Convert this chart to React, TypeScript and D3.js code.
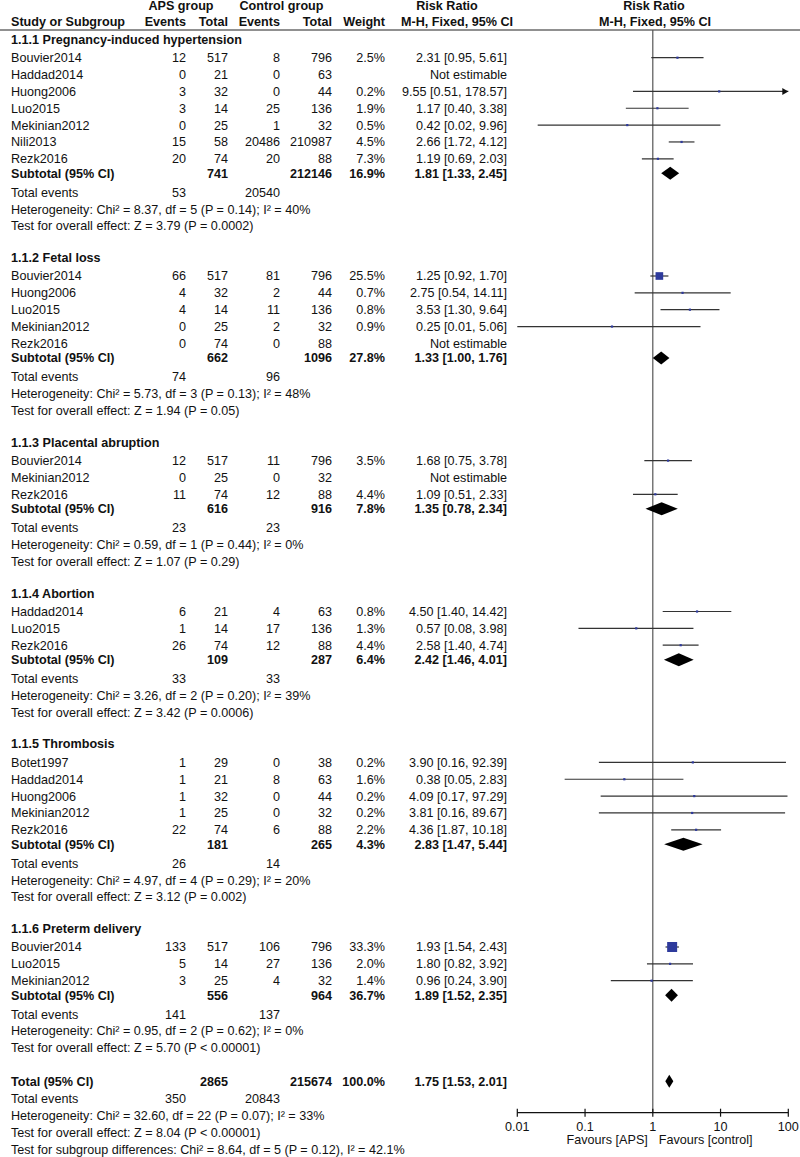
import React from 'react';
import * as d3 from 'd3';

// subgroup titles and footers
const groupTitles = [
    '1.1.1 Pregnancy-induced hypertension',
    '1.1.2 Fetal loss',
    '1.1.3 Placental abruption',
    '1.1.4 Abortion',
    '1.1.5 Thrombosis',
    '1.1.6 Preterm delivery'
];

// study rows (flat, grouped by studyGroup)
const studyGroup = [0, 0, 0, 0, 0, 0, 0, 1, 1, 1, 1, 1, 2, 2, 2, 3, 3, 3, 4, 4, 4, 4, 4, 5, 5, 5];
const studyNames = [
    'Bouvier2014', 'Haddad2014', 'Huong2006', 'Luo2015', 'Mekinian2012', 'Nili2013', 'Rezk2016',
    'Bouvier2014', 'Huong2006', 'Luo2015', 'Mekinian2012', 'Rezk2016',
    'Bouvier2014', 'Mekinian2012', 'Rezk2016',
    'Haddad2014', 'Luo2015', 'Rezk2016',
    'Botet1997', 'Haddad2014', 'Huong2006', 'Mekinian2012', 'Rezk2016',
    'Bouvier2014', 'Luo2015', 'Mekinian2012'
];
const apsEvents = [12, 0, 3, 3, 0, 15, 20, 66, 4, 4, 0, 0, 12, 0, 11, 6, 1, 26, 1, 1, 1, 1, 22, 133, 5, 3];
const apsTotals = [517, 21, 32, 14, 25, 58, 74, 517, 32, 14, 25, 74, 517, 25, 74, 21, 14, 74, 29, 21, 32, 25, 74, 517, 14, 25];
const ctlEvents = [8, 0, 0, 25, 1, 20486, 20, 81, 2, 11, 2, 0, 11, 0, 12, 4, 17, 12, 0, 8, 0, 0, 6, 106, 27, 4];
const ctlTotals = [796, 63, 44, 136, 32, 210987, 88, 796, 44, 136, 32, 88, 796, 32, 88, 63, 136, 88, 38, 63, 44, 32, 88, 796, 136, 32];
const weights = [2.5, null, 0.2, 1.9, 0.5, 4.5, 7.3, 25.5, 0.7, 0.8, 0.9, null, 3.5, null, 4.4, 0.8, 1.3, 4.4, 0.2, 1.6, 0.2, 0.2, 2.2, 33.3, 2.0, 1.4];
const riskRatio = [2.31, null, 9.55, 1.17, 0.42, 2.66, 1.19, 1.25, 2.75, 3.53, 0.25, null, 1.68, null, 1.09, 4.50, 0.57, 2.58, 3.90, 0.38, 4.09, 3.81, 4.36, 1.93, 1.80, 0.96];
const ciLower = [0.95, null, 0.51, 0.40, 0.02, 1.72, 0.69, 0.92, 0.54, 1.30, 0.01, null, 0.75, null, 0.51, 1.40, 0.08, 1.40, 0.16, 0.05, 0.17, 0.16, 1.87, 1.54, 0.82, 0.24];
const ciUpper = [5.61, null, 178.57, 3.38, 9.96, 4.12, 2.03, 1.70, 14.11, 9.64, 5.06, null, 3.78, null, 2.33, 14.42, 3.98, 4.74, 92.39, 2.83, 97.29, 89.67, 10.18, 2.43, 3.92, 3.90];

// subtotals
const subApsTotal = [741, 662, 616, 109, 181, 556];
const subCtlTotal = [212146, 1096, 916, 287, 265, 964];
const subWeight = [16.9, 27.8, 7.8, 6.4, 4.3, 36.7];
const subRR = [1.81, 1.33, 1.35, 2.42, 2.83, 1.89];
const subLower = [1.33, 1.00, 0.78, 1.46, 1.47, 1.52];
const subUpper = [2.45, 1.76, 2.34, 4.01, 5.44, 2.35];
const subEventsAps = [53, 74, 23, 33, 26, 141];
const subEventsCtl = [20540, 96, 23, 33, 14, 137];
const heterogeneity = [
    'Heterogeneity: Chi² = 8.37, df = 5 (P = 0.14); I² = 40%',
    'Heterogeneity: Chi² = 5.73, df = 3 (P = 0.13); I² = 48%',
    'Heterogeneity: Chi² = 0.59, df = 1 (P = 0.44); I² = 0%',
    'Heterogeneity: Chi² = 3.26, df = 2 (P = 0.20); I² = 39%',
    'Heterogeneity: Chi² = 4.97, df = 4 (P = 0.29); I² = 20%',
    'Heterogeneity: Chi² = 0.95, df = 2 (P = 0.62); I² = 0%'
];
const overallEffect = [
    'Test for overall effect: Z = 3.79 (P = 0.0002)',
    'Test for overall effect: Z = 1.94 (P = 0.05)',
    'Test for overall effect: Z = 1.07 (P = 0.29)',
    'Test for overall effect: Z = 3.42 (P = 0.0006)',
    'Test for overall effect: Z = 3.12 (P = 0.002)',
    'Test for overall effect: Z = 5.70 (P < 0.00001)'
];

// overall
const totalApsN = 2865;
const totalCtlN = 215674;
const totalRR = [1.75, 1.53, 2.01];
const totalEvents = [350, 20843];
const totalNotes = [
    'Heterogeneity: Chi² = 32.60, df = 22 (P = 0.07); I² = 33%',
    'Test for overall effect: Z = 8.04 (P < 0.00001)',
    'Test for subgroup differences: Chi² = 8.64, df = 5 (P = 0.12), I² = 42.1%'
];
const axisTicks = [0.01, 0.1, 1, 10, 100];

const W = 800, H = 1157;
const FONT = '"Liberation Sans", Arial, sans-serif';
const col = { name: 11, apsE: 186, apsN: 228, ctlE: 280, ctlN: 332, wt: 385, rr: 507 };
const axisY = 1112.7;

const fmtRR = (r, l, u) => r.toFixed(2) + ' [' + l.toFixed(2) + ', ' + u.toFixed(2) + ']';

export default function App() {
    const x = d3.scaleLog().domain([0.01, 100]).range([517.3, 788.3]);

    // row layout
    const step = 16.85;
    let y = 39.3;
    const groups = groupTitles.map((t, g) => {
        const out = { title: t, titleY: y, rows: [] };
        y += 18.4;
        const idx = studyGroup.map((v, i) => v === g ? i : -1).filter(i => i >= 0);
        idx.forEach((i, k) => {
            if (k > 0) y += step;
            out.rows.push({ i, y });
        });
        y += 14.5;
        out.subY = y;
        y += 19;
        out.teY = y;
        y += step;
        out.hetY = y;
        y += step;
        out.testY = y;
        y += 31.6;
        return out;
    });
    const totalY = groups[5].testY + 33.4;
    const totEvY = totalY + 17.3;

    const txt = (s, tx, ty, anchor = 'start', bold = false, key = undefined) => (
        <text key={key} x={tx} y={ty} dy="0.35em" textAnchor={anchor} fontWeight={bold ? 'bold' : 'normal'}>{s}</text>
    );

    const diamond = (r, l, u, cy, h = 13) =>
        `M${x(l)},${cy} L${x(r)},${cy - h / 2} L${x(u)},${cy} L${x(r)},${cy + h / 2} Z`;

    return (
        <svg width={W} height={H} style={{ position: 'absolute', left: 0, top: 0, background: '#fff' }}
             fontFamily={FONT} fontSize={12.6} fill="#111">
            {/* header */}
            {txt('APS group', 181, 5.5, 'middle', true)}
            {txt('Control group', 281.5, 5.5, 'middle', true)}
            {txt('Risk Ratio', 447, 5.5, 'middle', true)}
            {txt('Risk Ratio', 654, 5.5, 'middle', true)}
            {txt('Study or Subgroup', col.name, 22, 'start', true)}
            {txt('Events', col.apsE, 22, 'end', true)}
            {txt('Total', col.apsN, 22, 'end', true)}
            {txt('Events', col.ctlE, 22, 'end', true)}
            {txt('Total', col.ctlN, 22, 'end', true)}
            {txt('Weight', col.wt, 22, 'end', true)}
            {txt('M-H, Fixed, 95% CI', 457, 22, 'middle', true)}
            {txt('M-H, Fixed, 95% CI', 655, 22, 'middle', true)}
            <line x1={0} x2={W} y1={30} y2={30} stroke="#222" strokeWidth={1.2} />

            {/* null line */}
            <line x1={x(1)} x2={x(1)} y1={30} y2={axisY} stroke="#555" strokeWidth={1.2} />

            {groups.map((g, gi) => (
                <g key={gi}>
                    {txt(g.title, col.name, g.titleY, 'start', true)}
                    {g.rows.map(({ i, y: ry }) => (
                        <g key={i}>
                            {txt(studyNames[i], col.name, ry)}
                            {txt(apsEvents[i], col.apsE, ry, 'end')}
                            {txt(apsTotals[i], col.apsN, ry, 'end')}
                            {txt(ctlEvents[i], col.ctlE, ry, 'end')}
                            {txt(ctlTotals[i], col.ctlN, ry, 'end')}
                            {weights[i] != null && txt(weights[i].toFixed(1) + '%', col.wt, ry, 'end')}
                            {riskRatio[i] == null
                                ? txt('Not estimable', col.rr, ry, 'end')
                                : txt(fmtRR(riskRatio[i], ciLower[i], ciUpper[i]), col.rr, ry, 'end')}
                            {riskRatio[i] != null && (
                                <g>
                                    <line x1={x(ciLower[i])} x2={x(Math.min(ciUpper[i], 100))} y1={ry} y2={ry}
                                          stroke="#333" strokeWidth={1.2} />
                                    {ciUpper[i] > 100 && (
                                        <path d={`M${x(100)},${ry} l-6,-3.5 l0,7 Z`} fill="#111" />
                                    )}
                                    {(() => {
                                        const s = Math.max(2.2, weights[i] * 0.3);
                                        return <rect x={x(riskRatio[i]) - s / 2} y={ry - s / 2} width={s} height={s} fill="#2e3a9c" />;
                                    })()}
                                </g>
                            )}
                        </g>
                    ))}
                    {txt('Subtotal (95% CI)', col.name, g.subY, 'start', true)}
                    {txt(subApsTotal[gi], col.apsN, g.subY, 'end', true)}
                    {txt(subCtlTotal[gi], col.ctlN, g.subY, 'end', true)}
                    {txt(subWeight[gi].toFixed(1) + '%', col.wt, g.subY, 'end', true)}
                    {txt(fmtRR(subRR[gi], subLower[gi], subUpper[gi]), col.rr, g.subY, 'end', true)}
                    <path d={diamond(subRR[gi], subLower[gi], subUpper[gi], g.subY)} fill="#000" />
                    {txt('Total events', col.name, g.teY)}
                    {txt(subEventsAps[gi], col.apsE, g.teY, 'end')}
                    {txt(subEventsCtl[gi], col.ctlE, g.teY, 'end')}
                    {txt(heterogeneity[gi], col.name, g.hetY)}
                    {txt(overallEffect[gi], col.name, g.testY)}
                </g>
            ))}

            {/* overall */}
            {txt('Total (95% CI)', col.name, totalY, 'start', true)}
            {txt(totalApsN, col.apsN, totalY, 'end', true)}
            {txt(totalCtlN, col.ctlN, totalY, 'end', true)}
            {txt('100.0%', col.wt, totalY, 'end', true)}
            {txt(fmtRR(totalRR[0], totalRR[1], totalRR[2]), col.rr, totalY, 'end', true)}
            <path d={diamond(totalRR[0], totalRR[1], totalRR[2], totalY)} fill="#000" />
            {txt('Total events', col.name, totEvY)}
            {txt(totalEvents[0], col.apsE, totEvY, 'end')}
            {txt(totalEvents[1], col.ctlE, totEvY, 'end')}
            {totalNotes.map((s, k) => txt(s, col.name, totEvY + step * (k + 1), 'start', false, 'n' + k))}

            {/* axis */}
            <line x1={x(0.01)} x2={x(100)} y1={axisY} y2={axisY} stroke="#111" strokeWidth={1.2} />
            {axisTicks.map(t => (
                <g key={t}>
                    <line x1={x(t)} x2={x(t)} y1={axisY - 4} y2={axisY + 4} stroke="#111" strokeWidth={1.2} />
                    {txt(String(t), x(t), axisY + 13.5, 'middle')}
                </g>
            ))}
            {txt('Favours [APS]', x(1) - 5, axisY + 26.5, 'end')}
            {txt('Favours [control]', x(1) + 6, axisY + 26.5, 'start')}
        </svg>
    );
}
